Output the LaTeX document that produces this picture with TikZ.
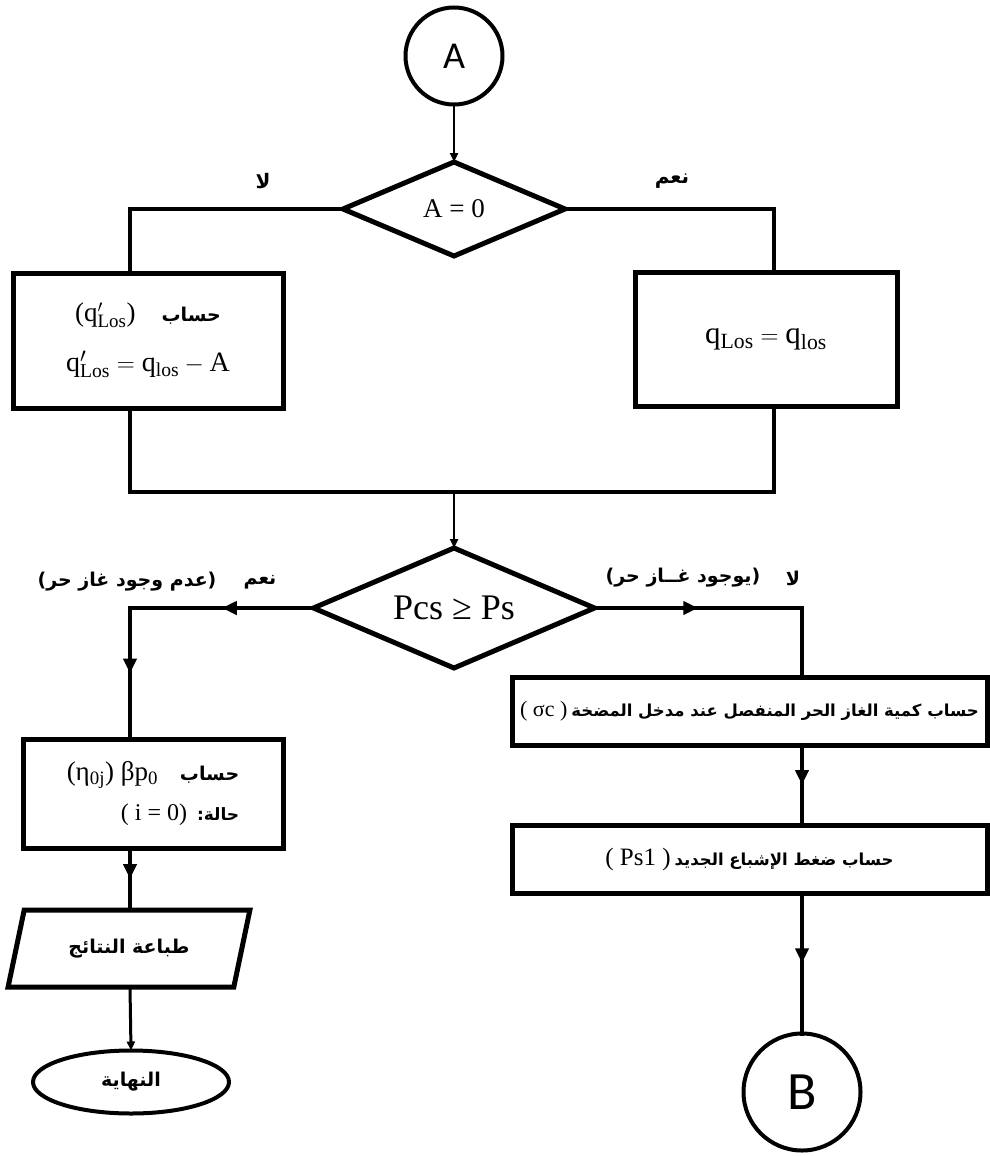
\documentclass[tikz,border=0pt]{standalone}
\usepackage{fontspec}
\setmainfont{Liberation Serif}
\newfontfamily\arfont[Script=Arabic]{DejaVu Sans}
\newfontfamily\dvs{DejaVu Sans}
\newfontfamily\lsans{Carlito}
\usetikzlibrary{shapes.geometric,arrows.meta,decorations.markings}
\TeXXeTstate=1
\newcommand{\arb}[1]{\arfont\bfseries\fontsize{#1}{#1}\selectfont}
\newcommand{\rmm}[1]{\mathrm{#1}}
\begin{document}
\begin{tikzpicture}[x=1pt,y=-1pt,
  every node/.style={inner sep=0pt, outer sep=0pt},
  proc/.style={draw, rectangle, line width=5pt},
  dec/.style={draw, diamond, line width=5pt, aspect=2.36},
  conn/.style={draw, circle, line width=4pt},
  wire/.style={line width=4pt, line cap=rect},
  thinwire/.style={line width=2.5pt},
  mid/.style={postaction={decorate}, decoration={markings, mark=at position 0.5 with {\arrow{Triangle[length=15pt,width=13pt]}}}},
  endarrow/.style={-{Triangle[length=9pt,width=8pt]}}
]
\path[use as bounding box, fill=white] (0,0) rectangle (990,1156);

% nodes
\node[conn, minimum size=97pt, font=\lsans\fontsize{38}{40}\selectfont] (A) at (454,56) {A};
\node[dec, minimum width=222pt, minimum height=94pt, font=\fontsize{27}{30}\selectfont] (d1) at (454,209) {A = 0};
\node[proc, minimum width=270pt, minimum height=135pt, align=center] (boxL) at (148,340.5)
  {{\fontsize{27}{30}\selectfont ($\rmm{q}'_{\rmm{Los}}$)}\hspace{26pt}{\arb{19}\beginR حساب\endR}\\[22pt]
   {\fontsize{28}{30}\selectfont $\rmm{q}'_{\rmm{Los}} = \rmm{q}_{\rmm{los}} - \rmm{A}$}};
\node[proc, minimum width=262pt, minimum height=134pt, font=\fontsize{31}{34}\selectfont] (boxR) at (766,339)
  {$\rmm{q}_{\rmm{Los}} = \rmm{q}_{\rmm{los}}$};
\node[dec, minimum width=281pt, minimum height=120pt, font=\fontsize{36}{40}\selectfont] (d2) at (454,608) {Pcs ≥ Ps};
\node[proc, minimum width=260pt, minimum height=109pt, align=right] (boxLL) at (153,793.5)
  {{\fontsize{27}{30}\selectfont (η\textsubscript{0j}) βp\textsubscript{0}}\hspace{22pt}{\arb{19}\beginR حساب\endR}\\[14pt]
   {\fontsize{24}{26}\selectfont ( i = 0)}\hspace{10pt}{\arb{17}\beginR حالة:\endR}};
\node[draw, trapezium, trapezium left angle=64, trapezium right angle=116, trapezium stretches=true,
  minimum width=242pt, minimum height=77pt, line width=5pt] (para) at (129,948.5)
  {\arb{19}\beginR طباعة النتائج\endR};
\node[draw, ellipse, minimum width=196pt, minimum height=63pt, line width=4pt] (end) at (131,1082)
  {\arb{19}\beginR النهاية\endR};
\node[proc, minimum width=475pt, minimum height=68pt] (boxS) at (749.5,711)
  {{\fontsize{22}{24}\selectfont ( σc )}\hspace{4pt}{\arb{16.5}\beginR حساب كمية الغاز الحر المنفصل عند مدخل المضخة\endR}};
\node[proc, minimum width=475pt, minimum height=68pt] (boxP) at (749.5,859)
  {{\fontsize{25}{26}\selectfont ( Ps1 )}\hspace{4pt}{\arb{16.5}\beginR حساب ضغط الإشباع الجديد\endR}};
\node[conn, minimum size=117pt, font=\lsans\fontsize{54}{56}\selectfont] (B) at (802,1092) {B};

% labels
\node (lno1) at (263,181) {\arb{20}\beginR لا\endR};
\node (lyes1) at (672,181) {\arb{20}\beginR نعم\endR};
\node (lyes2) at (260,582) {\arb{19}\beginR نعم\endR};
\node (lyes2b) at (127,582) {{\dvs\bfseries\fontsize{19}{19}\selectfont(}{\arb{19}\beginR عدم وجود غاز حر\endR}{\dvs\bfseries\fontsize{19}{19}\selectfont)}};
\node (lno2) at (793,578) {\arb{19}\beginR لا\endR};
\node (lno2b) at (683,578) {{\dvs\bfseries\fontsize{19}{19}\selectfont(}{\arb{19}\beginR يوجود غــاز حر\endR}{\dvs\bfseries\fontsize{19}{19}\selectfont)}};

% helper coordinates
\coordinate (cL) at (130,0);
\coordinate (cR) at (774,0);
\coordinate (cB) at (802,0);
\coordinate (j) at (454,492);
\coordinate (kL) at (130,608);
\coordinate (kR) at (802,608);

% connectors
\draw[thinwire, endarrow] (A) -- (d1.north);
\draw[wire] (d1.west) -| (boxL.north -| cL);
\draw[wire] (d1.east) -| (boxR.north -| cR);
\draw[wire] (boxL.south -| cL) |- (j);
\draw[wire] (boxR.south -| cR) |- (j);
\draw[thinwire, endarrow] (j) -- (d2.north);
\draw[wire, mid] (d2.west) -- (kL);
\draw[wire, mid] (kL) -- (boxLL.north -| cL);
\draw[wire, mid] (boxLL.south -| cL) -- (para.north -| cL);
\draw[thinwire, line width=3pt, endarrow] (para.south -| cL) -- (end.north);
\draw[wire, mid] (d2.east) -- (kR);
\draw[wire] (kR) -- (boxS.north -| cB);
\draw[wire, mid] (boxS.south -| cB) -- (boxP.north -| cB);
\draw[wire, mid] (boxP.south -| cB) -- (B.north);
\end{tikzpicture}
\end{document}
